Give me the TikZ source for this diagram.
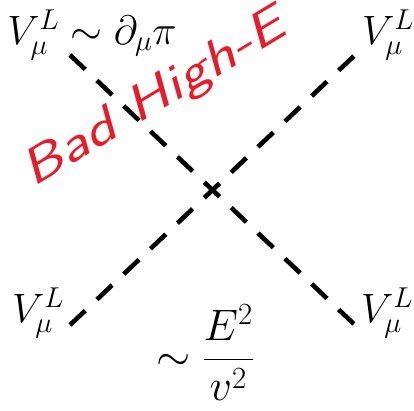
\RequirePackage{fix-cm}
\documentclass[tikz,border=0pt]{standalone}
\usepackage{amsmath}
\usepackage{fontspec}
\definecolor{penred}{RGB}{232,28,40}
\tikzset{
  leg/.style={line width=4.6pt, dash pattern=on 21pt off 16pt, dash phase=0pt},
  lbl/.style={inner sep=0pt, font=\fontsize{41}{46}\selectfont},
  scrawl/.style={text=penred, inner sep=0pt, rotate=31, font=\fontsize{50}{50}\selectfont\sffamily\itshape}
}
\begin{document}
\begin{tikzpicture}[x=1pt,y=-1pt]
  \useasboundingbox (0,0) rectangle (414,411);
  % vertex and external legs
  \coordinate (v) at (212,189);
  \coordinate (tl) at (70,55);
  \coordinate (tr) at (355,55);
  \coordinate (bl) at (70,325);
  \coordinate (br) at (355,325);
  \draw[leg] (tl) -- (br);
  \draw[leg] (bl) -- (tr);
  % labels
  \node[lbl] (vtl) at (92,35) {$V_\mu^L\sim\partial_\mu\pi$};
  \node[lbl] (vtr) at (388,35) {$V_\mu^L$};
  \node[lbl] (vbl) at (38,313) {$V_\mu^L$};
  \node[lbl] (vbr) at (387,313) {$V_\mu^L$};
  \node[lbl, font=\fontsize{44}{48}\selectfont] (amp) at (205,353) {$\sim\dfrac{E^2}{v^2}$};
  \node[scrawl] (bad) at (155,100) {\scalebox{1.3}[1]{Bad High-E}};
\end{tikzpicture}
\end{document}
